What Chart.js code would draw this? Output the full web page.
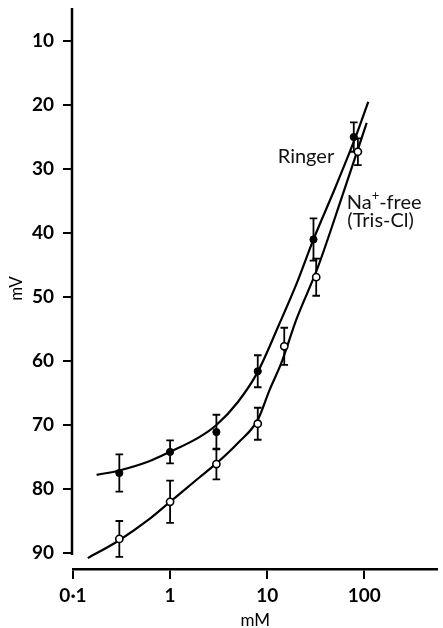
<!DOCTYPE html>
<html>
<head>
<meta charset="utf-8">
<script src="https://cdn.jsdelivr.net/npm/chart.js@4/dist/chart.umd.min.js"></script>
<style>
  html, body { margin: 0; padding: 0; background: #fff; }
  canvas { display: block; }
</style>
</head>
<body>
<canvas id="c" width="443" height="628"></canvas>
<script>
// ---- data ----
const xTickValues = [0.1, 1, 10, 100];
const xTickLabels = ['0·1', '1', '10', '100'];
const yTickValues = [10, 20, 30, 40, 50, 60, 70, 80, 90];
const yTickLabels = ['10', '20', '30', '40', '50', '60', '70', '80', '90'];

// Ringer (filled circles): concentration (mM), potential (mV), error (mV)
const ringerX   = [0.3, 1, 3, 8, 30, 78];
const ringerY   = [77.5, 74.2, 71.1, 61.6, 41.0, 25.0];
const ringerErr = [2.9, 1.8, 2.7, 2.5, 3.3, 2.3];

// Na+-free (Tris-Cl) (open circles)
const nafreeX   = [0.3, 1, 3, 8, 15, 32, 86];
const nafreeY   = [87.8, 82.0, 76.1, 69.8, 57.7, 46.9, 27.3];
const nafreeErr = [2.8, 3.3, 2.4, 2.5, 2.9, 2.9, 2.1];

// fitted curves
const ringerCurveX = [0.175, 0.3, 0.6, 1, 2, 3, 5, 8, 13, 20, 30, 50, 80, 110];
const ringerCurveY = [77.8, 77.1, 75.7, 74.2, 71.9, 70.0, 66.4, 61.7, 54.6, 48.0, 41.0, 33.0, 25.3, 19.5];
const nafreeCurveX = [0.142, 0.3, 0.6, 1, 2, 3, 5, 8, 10.6, 14, 20, 33, 60, 106];
const nafreeCurveY = [90.8, 88.0, 84.8, 82.0, 78.2, 76.0, 72.8, 69.2, 64.5, 60.3, 53.5, 45.5, 34.0, 22.8];

// axis ranges
const xMin = 0.1, xMax = 567;
const yTop = 4.84, yBottom = 92.5, yAxisEnd = 90.3;

const pts = (xs, ys) => xs.map((x, i) => ({ x: x, y: ys[i] }));

const FONT = 'Lato, "Open Sans", "DejaVu Sans", sans-serif';

const errorBarPlugin = {
  id: 'errorBars',
  beforeDatasetsDraw(chart) {
    const ctx = chart.ctx;
    const xs = chart.scales.x, ys = chart.scales.y;
    const sets = [[ringerX, ringerY, ringerErr], [nafreeX, nafreeY, nafreeErr]];
    ctx.save();
    ctx.strokeStyle = '#000';
    ctx.lineWidth = 1.8;
    const cap = 3.8;
    sets.forEach(([X, Y, E]) => {
      X.forEach((x, i) => {
        const px = xs.getPixelForValue(x);
        const p1 = ys.getPixelForValue(Y[i] - E[i]);
        const p2 = ys.getPixelForValue(Y[i] + E[i]);
        ctx.beginPath();
        ctx.moveTo(px, p1); ctx.lineTo(px, p2);
        ctx.moveTo(px - cap, p1); ctx.lineTo(px + cap, p1);
        ctx.moveTo(px - cap, p2); ctx.lineTo(px + cap, p2);
        ctx.stroke();
      });
    });
    ctx.restore();
  },
  afterDraw(chart) {
    const ctx = chart.ctx;
    const xs = chart.scales.x, ys = chart.scales.y;
    ctx.save();
    // detached y axis line
    ctx.strokeStyle = '#000';
    ctx.lineWidth = 2.5;
    const ax = chart.chartArea.left - 1;
    ctx.beginPath();
    ctx.moveTo(ax, ys.getPixelForValue(yTop));
    ctx.lineTo(ax, ys.getPixelForValue(yAxisEnd));
    ctx.stroke();

    // curve labels
    const big = '20px ' + FONT;
    ctx.fillStyle = '#111';
    ctx.font = big;
    ctx.textBaseline = 'middle';
    ctx.textAlign = 'right';
    ctx.fillText('Ringer', xs.getPixelForValue(49), ys.getPixelForValue(28.1));
    ctx.textAlign = 'left';
    let lx = xs.getPixelForValue(66);
    const ly = ys.getPixelForValue(35.2);
    ctx.fillText('Na', lx, ly);
    lx += ctx.measureText('Na').width;
    ctx.font = '13px ' + FONT;
    ctx.fillText('+', lx, ly - 6);
    lx += ctx.measureText('+').width;
    ctx.font = big;
    ctx.fillText('-free', lx, ly);
    ctx.fillText('(Tris-Cl)', xs.getPixelForValue(67), ys.getPixelForValue(38.1));
    ctx.restore();
  }
};

new Chart(document.getElementById('c'), {
  type: 'scatter',
  data: {
    datasets: [
      {
        label: 'Ringer',
        data: pts(ringerX, ringerY),
        pointRadius: 3.6,
        pointBackgroundColor: '#000',
        pointBorderColor: '#000',
        pointBorderWidth: 1,
        showLine: false,
        order: 0
      },
      {
        label: 'Na+-free (Tris-Cl)',
        data: pts(nafreeX, nafreeY),
        pointRadius: 3.6,
        pointBackgroundColor: '#fff',
        pointBorderColor: '#000',
        pointBorderWidth: 1.6,
        showLine: false,
        order: 0
      },
      {
        label: 'Ringer fit',
        data: pts(ringerCurveX, ringerCurveY),
        showLine: true,
        pointRadius: 0,
        borderColor: '#000',
        borderWidth: 2.2,
        cubicInterpolationMode: 'monotone',
        order: 1
      },
      {
        label: 'Na-free fit',
        data: pts(nafreeCurveX, nafreeCurveY),
        showLine: true,
        pointRadius: 0,
        borderColor: '#000',
        borderWidth: 2.2,
        cubicInterpolationMode: 'monotone',
        order: 1
      }
    ]
  },
  options: {
    responsive: false,
    animation: false,
    events: [],
    layout: { padding: { top: 8, right: 0, left: 0, bottom: 0 } },
    plugins: { legend: { display: false }, tooltip: { enabled: false } },
    scales: {
      x: {
        type: 'logarithmic',
        position: 'bottom',
        min: xMin,
        max: xMax,
        afterBuildTicks: (s) => { s.ticks = xTickValues.map(v => ({ value: v })); },
        afterFit: (s) => { s.height = 59; s.paddingLeft = 0; s.paddingRight = 0; },
        ticks: {
          autoSkip: false,
          maxRotation: 0,
          color: '#000',
          padding: 5,
          font: { family: FONT, size: 19, weight: 'bold' },
          callback: (v, i) => xTickLabels[i]
        },
        grid: { display: true, drawOnChartArea: false, drawTicks: true, tickLength: 10, color: '#000', lineWidth: 2 },
        border: { display: true, color: '#000', width: 2.5 },
        title: { display: true, text: 'mM', color: '#000', font: { family: FONT, size: 17, lineHeight: 1 }, padding: { top: 0, bottom: -1 } }
      },
      y: {
        type: 'linear',
        reverse: true,
        min: yTop,
        max: yBottom,
        afterBuildTicks: (s) => { s.ticks = yTickValues.map(v => ({ value: v })); },
        afterFit: (s) => { s.width = 73; s.paddingTop = 0; s.paddingBottom = 0; },
        ticks: {
          autoSkip: false,
          color: '#000',
          padding: 9,
          font: { family: FONT, size: 19, weight: 'bold' },
          callback: (v, i) => yTickLabels[i]
        },
        grid: { display: true, drawOnChartArea: false, drawTicks: true, tickLength: 10, color: '#000', lineWidth: 2 },
        border: { display: false },
        title: { display: true, text: 'mV', color: '#000', font: { family: FONT, size: 17, lineHeight: 1 }, padding: { top: 8, bottom: 0 } }
      }
    }
  },
  plugins: [errorBarPlugin]
});
</script>
</body>
</html>
